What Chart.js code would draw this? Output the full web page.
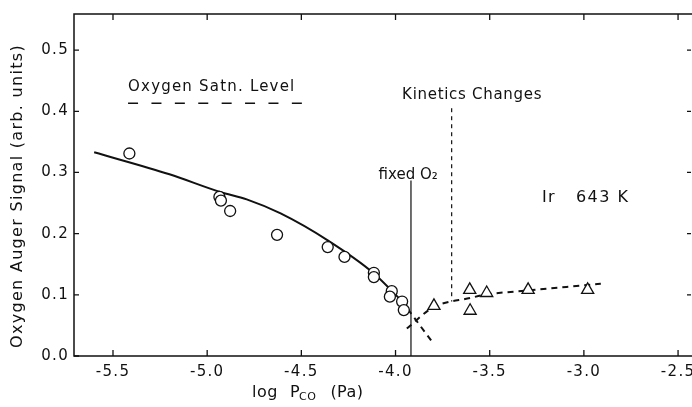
<!DOCTYPE html>
<html>
<head>
<meta charset="utf-8">
<script src="https://cdn.jsdelivr.net/npm/chart.js@4"></script>
<style>
  body { margin: 0; background: #fff; }
  #wrap { width: 692px; height: 407px; }
</style>
</head>
<body>
<div id="wrap"><canvas id="augerChart" width="692" height="407"></canvas></div>
<script>
// measured points (log P_CO, signal)
const circleX = [-5.413, -4.935, -4.927, -4.878, -4.629, -4.36, -4.271, -4.115, -4.115, -4.02, -4.03, -3.965, -3.956];
const circleY = [0.331, 0.260, 0.254, 0.237, 0.198, 0.178, 0.162, 0.136, 0.129, 0.106, 0.097, 0.089, 0.075];
const triX = [-3.796, -3.606, -3.604, -3.516, -3.296, -2.98];
const triY = [0.082, 0.108, 0.074, 0.103, 0.108, 0.108];

// drawn curves
const fitX = [-5.60, -5.20, -4.93, -4.79, -4.61, -4.36, -4.115, -3.97];
const fitY = [0.333, 0.297, 0.268, 0.256, 0.233, 0.189, 0.135, 0.091];
const fitTailX = [-3.97, -3.80];
const fitTailY = [0.091, 0.021];
const lowX = [-3.94, -3.797, -3.60, -3.53, -3.30, -2.91];
const lowY = [0.045, 0.080, 0.095, 0.100, 0.107, 0.118];

// reference lines
const satnX = [-5.42, -4.495];
const satnY = [0.413, 0.413];
const fixedX = [-3.918, -3.918];
const fixedY = [0.287, 0.0];
const kineticsX = [-3.702, -3.702];
const kineticsY = [0.405, 0.089];

const xTicks = [-5.5, -5.0, -4.5, -4.0, -3.5, -3.0, -2.5];
const yTicks = [0.0, 0.1, 0.2, 0.3, 0.4, 0.5];

function pts(xs, ys) {
  return xs.map((x, i) => ({ x: x, y: ys[i] }));
}

const ink = "#111";
const font = "'DejaVu Sans', sans-serif";

function lineSet(xs, ys, width, dash, smooth) {
  return {
    type: "line",
    data: pts(xs, ys),
    borderColor: ink,
    borderWidth: width,
    borderDash: dash,
    pointRadius: 0,
    fill: false,
    cubicInterpolationMode: smooth ? "monotone" : "default",
    tension: 0
  };
}

// frame, inward ticks and the notes on the plot
const decor = {
  id: "decor",
  beforeDraw(chart) {
    // the lettering of the original is widely spaced
    chart.ctx.letterSpacing = "1.3px";
  },
  beforeDatasetsDraw(chart) {
    chart.ctx.letterSpacing = "0px";
  },
  afterDraw(chart) {
    const ctx = chart.ctx;
    const a = chart.chartArea;
    const xs = chart.scales.x;
    const ys = chart.scales.y;
    ctx.save();
    ctx.strokeStyle = ink;
    ctx.lineWidth = 1.5;
    ctx.beginPath();
    ctx.moveTo(a.right, a.top);
    ctx.lineTo(a.left, a.top);
    ctx.lineTo(a.left, a.bottom);
    ctx.lineTo(a.right, a.bottom);
    ctx.stroke();
    ctx.lineWidth = 1.3;
    ctx.beginPath();
    xTicks.forEach(v => {
      const px = xs.getPixelForValue(v);
      ctx.moveTo(px, a.bottom); ctx.lineTo(px, a.bottom - 6);
      ctx.moveTo(px, a.top); ctx.lineTo(px, a.top + 6);
    });
    yTicks.forEach(v => {
      const py = ys.getPixelForValue(v);
      ctx.moveTo(a.left, py); ctx.lineTo(a.left + 5, py);
      if (v > 0) { ctx.moveTo(a.right - 1, py); ctx.lineTo(a.right - 5, py); }
    });
    ctx.stroke();

    ctx.fillStyle = ink;
    ctx.textBaseline = "middle";
    ctx.textAlign = "left";
    ctx.font = "15px " + font;
    ctx.letterSpacing = "1.2px";
    ctx.fillText("Oxygen Satn. Level", xs.getPixelForValue(-5.42), ys.getPixelForValue(0.44));
    ctx.letterSpacing = "0.7px";
    ctx.fillText("Kinetics Changes", xs.getPixelForValue(-3.965), ys.getPixelForValue(0.426));
    ctx.letterSpacing = "0px";
    ctx.fillText("fixed O\u2082", xs.getPixelForValue(-4.09), ys.getPixelForValue(0.296));
    ctx.font = "16px " + font;
    ctx.letterSpacing = "1.5px";
    ctx.fillText("Ir   643 K", xs.getPixelForValue(-3.223), ys.getPixelForValue(0.258));

    // axis titles
    ctx.letterSpacing = "0.5px";
    ctx.font = "16px " + font;
    let x0 = 252, yb = 393;
    ctx.fillText("log", x0, yb);
    x0 += ctx.measureText("log").width + 12;
    ctx.fillText("P", x0, yb);
    x0 += ctx.measureText("P").width - 1;
    ctx.font = "11px " + font;
    ctx.fillText("CO", x0, yb + 4);
    x0 += ctx.measureText("CO").width + 14;
    ctx.font = "16px " + font;
    ctx.fillText("(Pa)", x0, yb);

    ctx.translate(18, 196);
    ctx.rotate(-Math.PI / 2);
    ctx.textAlign = "center";
    ctx.font = "16px " + font;
    ctx.letterSpacing = "1.3px";
    ctx.fillText("Oxygen Auger Signal (arb. units)", 0, 0);
    ctx.restore();
  }
};

new Chart(document.getElementById("augerChart"), {
  type: "scatter",
  data: {
    datasets: [
      {
        data: pts(circleX, circleY),
        pointStyle: "circle",
        pointRadius: 5.5,
        pointBorderWidth: 1.3,
        pointBorderColor: ink,
        pointBackgroundColor: "#fff"
      },
      {
        data: pts(triX, triY),
        pointStyle: "triangle",
        pointRadius: 7,
        pointBorderWidth: 1.3,
        pointBorderColor: ink,
        pointBackgroundColor: "#fff"
      },
      lineSet(fitX, fitY, 2, [], true),
      lineSet(fitTailX, fitTailY, 2, [6, 5], false),
      lineSet(lowX, lowY, 2, [6, 5], true),
      lineSet(satnX, satnY, 1.6, [10, 13.4], false),
      lineSet(fixedX, fixedY, 1.2, [], false),
      lineSet(kineticsX, kineticsY, 1.2, [4, 4], false)
    ]
  },
  options: {
    responsive: false,
    animation: false,
    layout: { autoPadding: false, padding: { top: 14, right: 0, left: 0, bottom: 0 } },
    plugins: { legend: { display: false }, tooltip: { enabled: false } },
    scales: {
      x: {
        type: "linear",
        min: -5.707,
        max: -2.426,
        afterBuildTicks: s => { s.ticks = xTicks.map(v => ({ value: v })); },
        afterFit: s => { s.height = 51; s.paddingLeft = 0; s.paddingRight = 0; },
        grid: { display: false, drawTicks: false },
        border: { display: false },
        ticks: {
          autoSkip: false,
          maxRotation: 0,
          padding: 7,
          color: ink,
          font: { family: font, size: 15 },
          callback: v => v.toFixed(1)
        }
      },
      y: {
        type: "linear",
        min: 0,
        max: 0.559,
        afterBuildTicks: s => { s.ticks = yTicks.map(v => ({ value: v })); },
        afterFit: s => { s.width = 74; s.paddingTop = 0; s.paddingBottom = 0; },
        grid: { display: false, drawTicks: false },
        border: { display: false },
        ticks: {
          padding: 5,
          color: ink,
          font: { family: font, size: 15 },
          callback: v => v.toFixed(1)
        }
      }
    }
  },
  plugins: [decor]
});
</script>
</body>
</html>
